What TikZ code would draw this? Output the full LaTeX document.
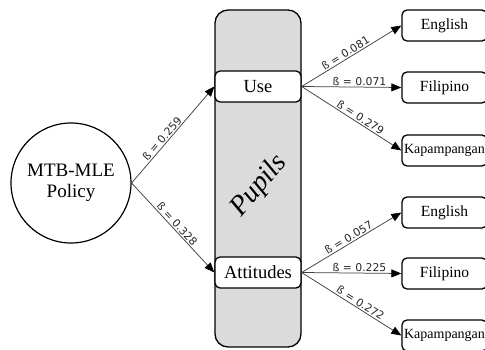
\documentclass[tikz,border=0pt]{standalone}
\usepackage{fontspec}
\setmainfont{Liberation Serif}
\newfontfamily\labelfont{DejaVu Sans}
\usetikzlibrary{arrows.meta}
\definecolor{panelgray}{RGB}{220,219,220}
\begin{document}
\begin{tikzpicture}[x=1pt,y=-1pt,
  box/.style={draw=black,line width=1.3pt,rounded corners=5pt,fill=white,
    inner sep=0pt,minimum width=86pt,minimum height=31pt},
  outbox/.style={box,minimum width=85pt,font=\fontsize{15.5}{17}\selectfont},
  link/.style={draw=black!75,line width=0.75pt,
    -{Triangle[length=10pt,width=8pt,color=black]}},
  beta/.style={font=\labelfont\fontsize{10.8}{12}\selectfont,text=black!85,
    sloped,above,inner sep=1.2pt}]
\useasboundingbox (0,0) rectangle (485,350);

% the "Pupils" column
\node (col) [draw=black,line width=1.3pt,rounded corners=13pt,fill=panelgray,
  minimum width=86pt,minimum height=337pt,inner sep=0pt] at (258,178.5) {};
\node (pup) [rotate=50,font=\fontsize{28}{30}\selectfont\itshape] at (259,186) {Pupils};

% policy
\node (pol) [draw=black,line width=1.2pt,circle,minimum size=120pt,inner sep=0pt,
  align=center,font=\fontsize{19}{20.5}\selectfont] at (71,183) {MTB-MLE\\Policy};

% mediators
\node (use) [box,font=\fontsize{18.5}{20}\selectfont] at (258,86.5) {Use};
\node (att) [box,font=\fontsize{18.5}{20}\selectfont] at (258,272.5) {Attitudes};

% outcomes
\node (en1) [outbox] at (444.5,25.5) {English};
\node (fi1) [outbox] at (444.5,87.5) {Filipino};
\node (ka1) [outbox,font=\fontsize{14}{16}\selectfont] at (444.5,150.5) {Kapampangan};
\node (en2) [outbox] at (444.5,212.5) {English};
\node (fi2) [outbox] at (444.5,273.5) {Filipino};
\node (ka2) [outbox,font=\fontsize{14}{16}\selectfont] at (444.5,335.5) {Kapampangan};

% paths
\draw[link] (pol.east) -- node[beta,pos=0.42] {ß = 0.259} (use.west);
\draw[link] (pol.east) -- node[beta,pos=0.5] {ß = 0.328} (att.west);

\draw[link] (use.east) -- node[beta,pos=0.47] {ß = 0.081} (en1.west);
\draw[link] (use.east) -- node[beta,pos=0.58] {ß = 0.071} (fi1.west);
\draw[link] (use.east) -- node[beta,pos=0.56] {ß = 0.279} (ka1.west);

\draw[link] (att.east) -- node[beta,pos=0.5] {ß = 0.057} (en2.west);
\draw[link] (att.east) -- node[beta,pos=0.58] {ß = 0.225} (fi2.west);
\draw[link] (att.east) -- node[beta,pos=0.56] {ß = 0.272} (ka2.west);
\end{tikzpicture}
\end{document}
